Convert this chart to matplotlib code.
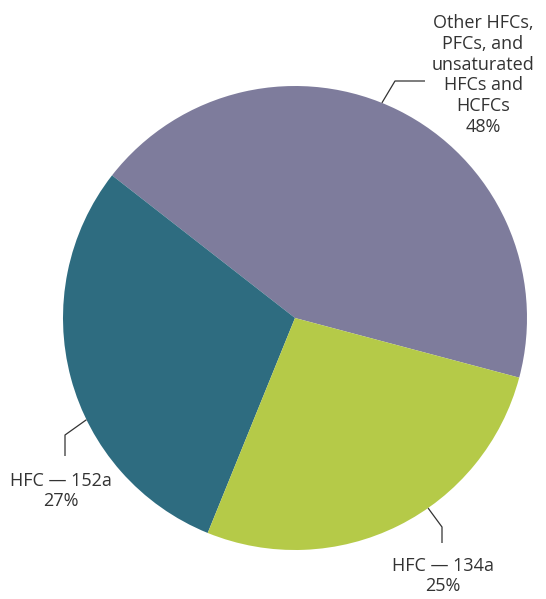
import numpy as np
import matplotlib
matplotlib.use('Agg')
import matplotlib.pyplot as plt

plt.rcParams['font.family'] = ['Open Sans', 'DejaVu Sans']

# slice sizes as drawn in the picture (the printed labels differ slightly)
names = ['Other HFCs,\nPFCs, and\nunsaturated\nHFCs and\nHCFCs', 'HFC — 152a', 'HFC — 134a']
shares = [43.6, 29.4, 27.0]
label_pct = ['48%', '27%', '25%']
colors = ['#7e7c9c', '#2e6c80', '#b5ca48']

W, H = 546, 599
fig = plt.figure(figsize=(W / 100, H / 100), dpi=100)
ax = fig.add_axes([0, 0, 1, 1])

cx, cy, r = 295, H - 318, 232
ax.pie(shares, colors=colors, startangle=-14.9, counterclock=True,
       center=(cx, cy), radius=r, wedgeprops=dict(linewidth=0))

# leader lines: angle on rim, elbow, end ; text anchor
leader_ang = [68.0, 206.0, -55.0]
elbows = [(395, 81), (65, 435), (442, 527)]
ends = [(425, 81), (65, 456), (442, 543)]
text_pos = [(483, 75), (61, 491), (443, 576)]

for i in range(len(shares)):
    a = np.deg2rad(leader_ang[i])
    x0, y0 = cx + r * np.cos(a), cy + r * np.sin(a)
    ex, ey = elbows[i]
    fx, fy = ends[i]
    ax.plot([x0, ex, fx], [y0, H - ey, H - fy], color='#333333', lw=0.9,
            solid_capstyle='butt')
    tx, ty = text_pos[i]
    ax.text(tx, H - ty, names[i] + '\n' + label_pct[i], ha='center', va='center',
            fontsize=13, color='#333333', linespacing=1.2)

ax.set_xlim(0, W)
ax.set_ylim(0, H)
ax.set_aspect('equal')
ax.axis('off')

fig.savefig('out.png', dpi=100)
